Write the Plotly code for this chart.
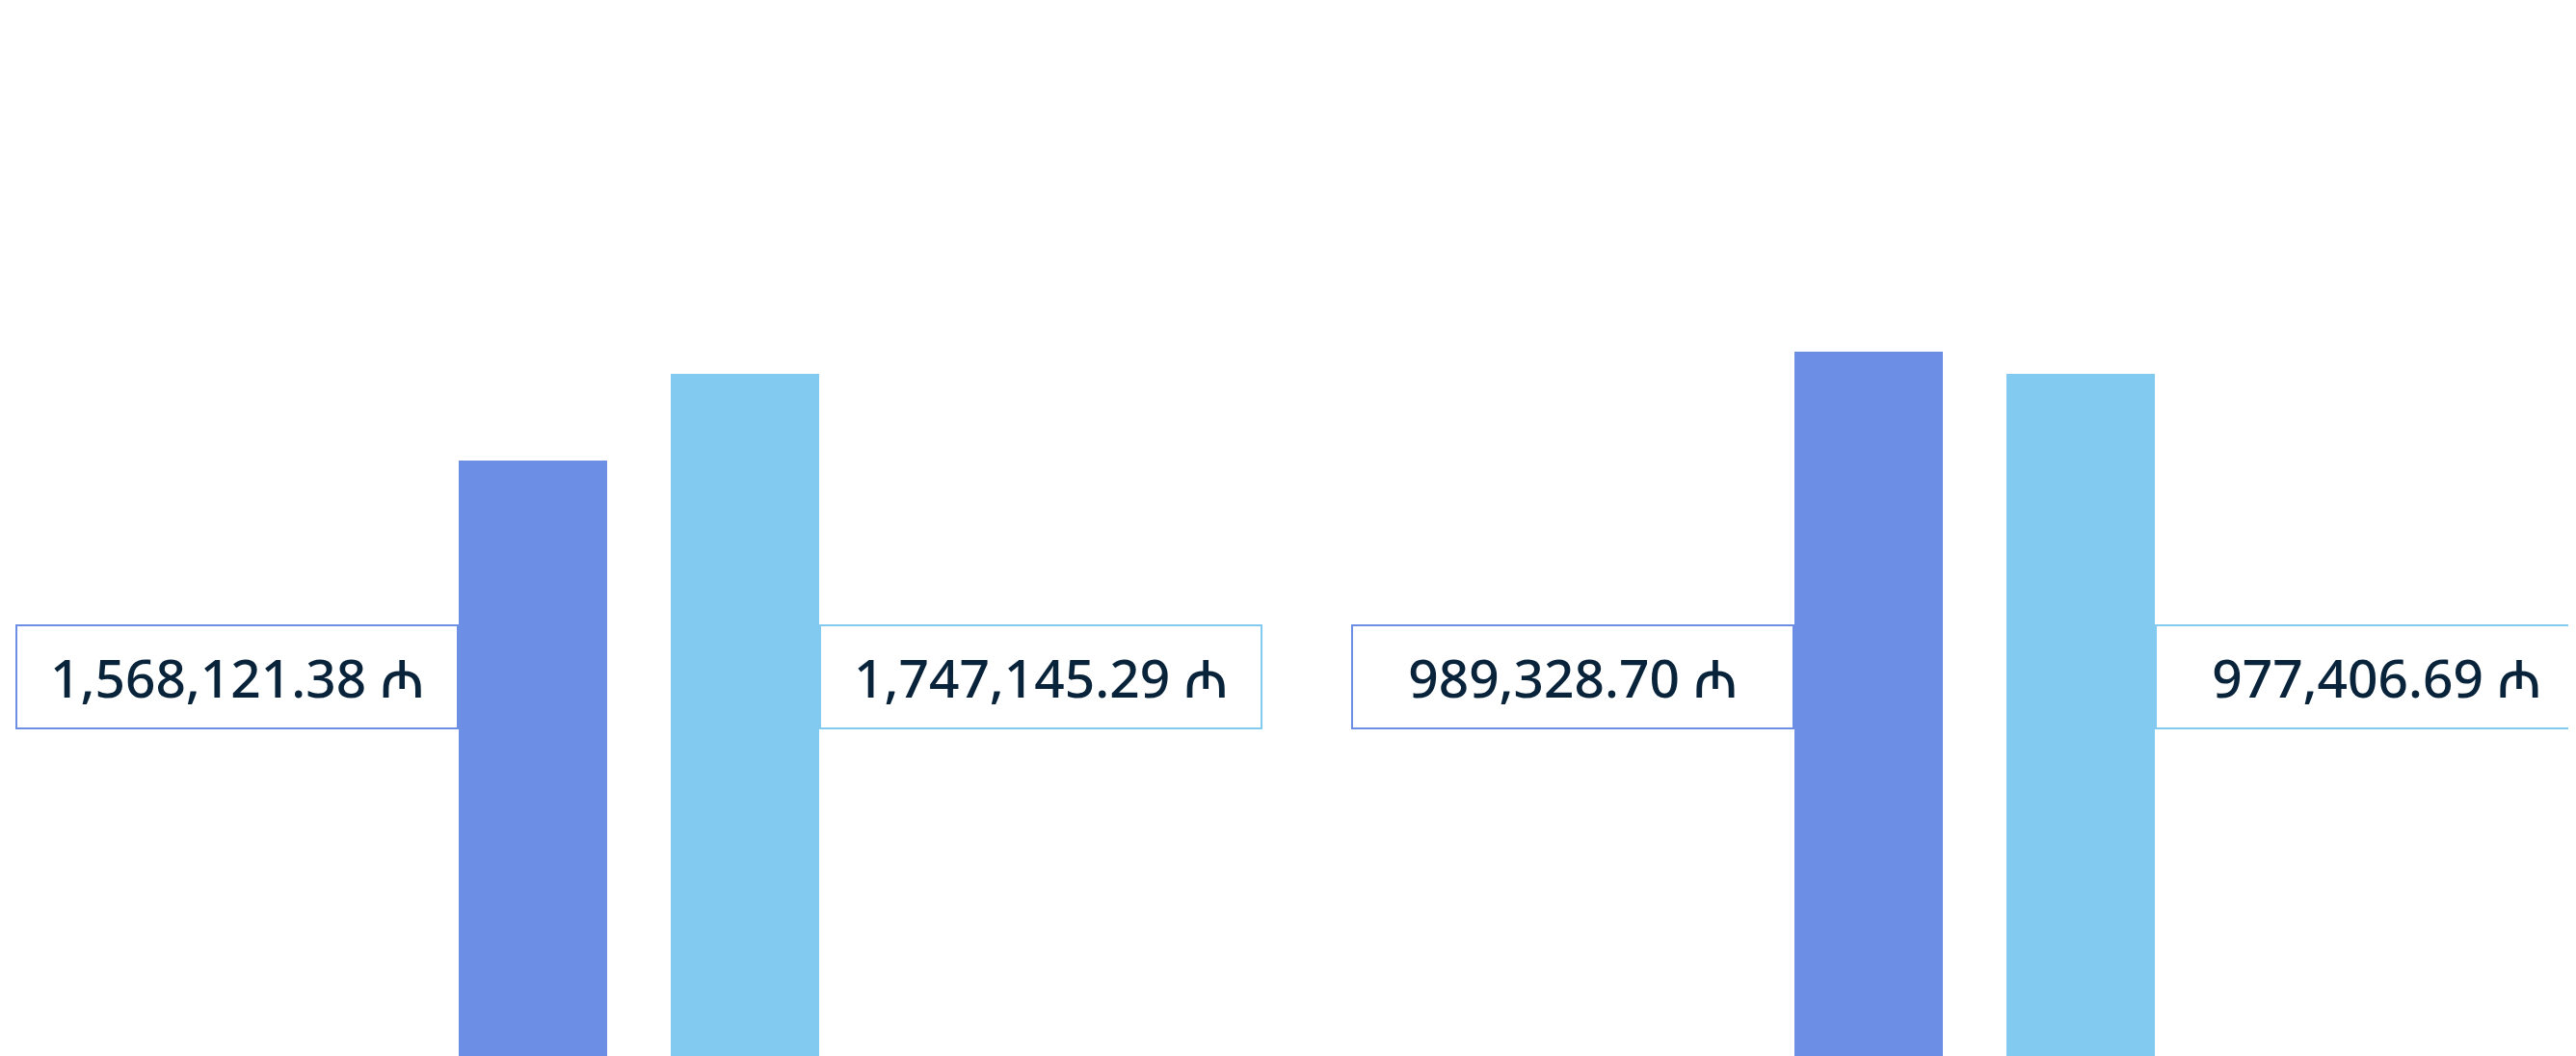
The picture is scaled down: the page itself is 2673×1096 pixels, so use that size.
import plotly.graph_objects as go

groups = ["Group 1", "Group 2"]
series_names = ["Previous", "Current"]
dark_values = [1568121.38, 989328.70]
light_values = [1747145.29, 977406.69]
value_labels_dark = ["1,568,121.38 ₼", "989,328.70 ₼"]
value_labels_light = ["1,747,145.29 ₼", "977,406.69 ₼"]

DARK = "#6C8EE4"
LIGHT = "#83CAF1"
TEXT = "#08233A"
FONT = "Noto Sans, DejaVu Sans, sans-serif"

# page body has an 8px default margin, so the figure is sized to fit the window
W, H = 2665, 1088
yranges = [[338827, 2503022], [610414, 1174380]]
yaxes = ["y", "y2"]

fig = go.Figure()
for i, g in enumerate(groups):
    fig.add_trace(go.Bar(x=[g], y=[dark_values[i]], name=series_names[0],
                         marker=dict(color=DARK, line=dict(width=0)),
                         yaxis=yaxes[i], showlegend=False, hoverinfo="skip"))
    fig.add_trace(go.Bar(x=[g], y=[light_values[i]], name=series_names[1],
                         marker=dict(color=LIGHT, line=dict(width=0)),
                         yaxis=yaxes[i], showlegend=False, hoverinfo="skip"))

annotations = []
for i, g in enumerate(groups):
    annotations.append(dict(
        x=g, xref="x", y=0.3617, yref="paper", xanchor="right", yanchor="middle",
        xshift=-187, text=value_labels_dark[i], showarrow=False,
        font=dict(family=FONT, size=55, color=TEXT, weight=500),
        bordercolor=DARK, borderwidth=2, borderpad=0, bgcolor="white",
        width=456, height=105, align="center", valign="middle"))
    annotations.append(dict(
        x=g, xref="x", y=0.3617, yref="paper", xanchor="left", yanchor="middle",
        xshift=187, text=value_labels_light[i], showarrow=False,
        font=dict(family=FONT, size=55, color=TEXT, weight=500),
        bordercolor=LIGHT, borderwidth=2, borderpad=0, bgcolor="white",
        width=456, height=105, align="center", valign="middle"))

axis_common = dict(showgrid=False, zeroline=False, showticklabels=False,
                   showline=False, ticks="")
fig.update_layout(
    width=W, height=H,
    margin=dict(l=0, r=0, t=0, b=0),
    paper_bgcolor="white", plot_bgcolor="white",
    barmode="group", bargap=0.68254, bargroupgap=0.3,
    xaxis=dict(type="category", range=[-0.4726, 1.4502], **axis_common),
    yaxis=dict(range=yranges[0], **axis_common),
    yaxis2=dict(range=yranges[1], overlaying="y", **axis_common),
    annotations=annotations,
    showlegend=False,
)

fig.write_html("out.html")
